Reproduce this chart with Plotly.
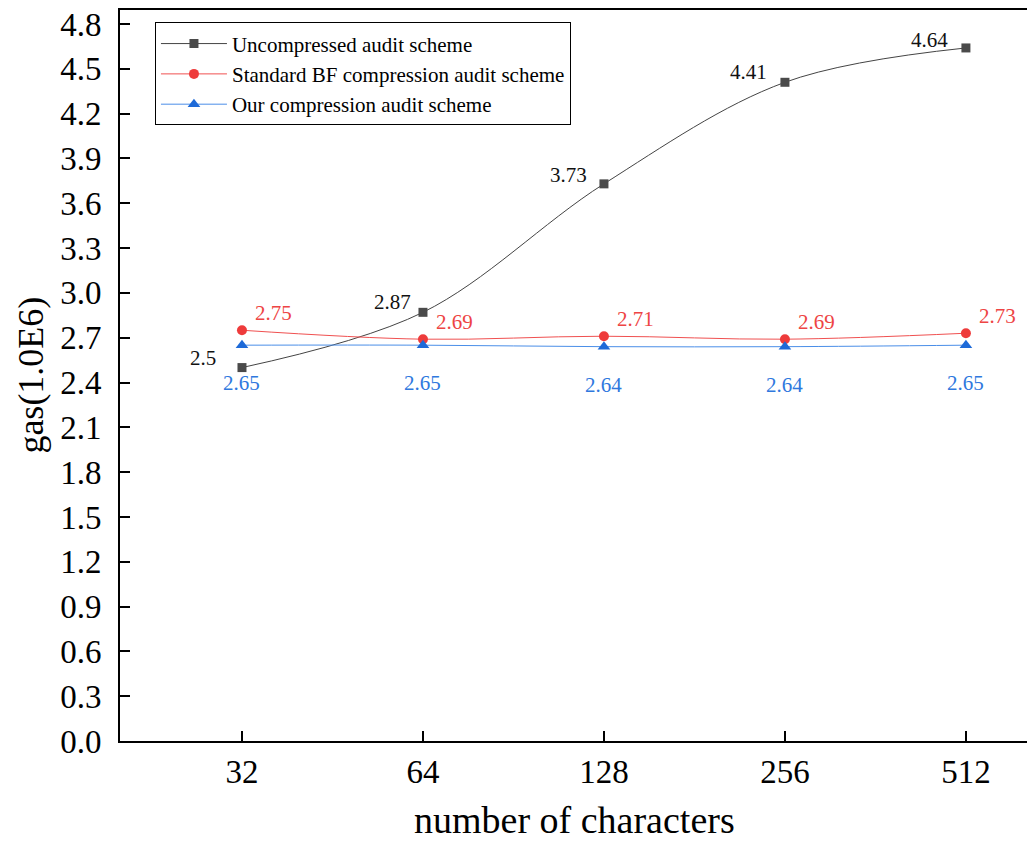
import plotly.graph_objects as go

categories = ["32", "64", "128", "256", "512"]
uncompressed = [2.5, 2.87, 3.73, 4.41, 4.64]
standard_bf = [2.75, 2.69, 2.71, 2.69, 2.73]
ours = [2.65, 2.65, 2.64, 2.64, 2.65]
y_ticks = [0.0, 0.3, 0.6, 0.9, 1.2, 1.5, 1.8, 2.1, 2.4, 2.7, 3.0, 3.3, 3.6, 3.9, 4.2, 4.5, 4.8]

FONT = "Liberation Serif"
idx = list(range(len(categories)))

fig = go.Figure()
fig.add_trace(go.Scatter(
    x=idx, y=uncompressed, name="Uncompressed audit scheme",
    mode="lines+markers", line=dict(color="#444444", width=1, shape="spline", smoothing=1.0),
    marker=dict(symbol="square", size=9, color="#4a4a4a")))
fig.add_trace(go.Scatter(
    x=idx, y=standard_bf, name="Standard BF compression audit scheme",
    mode="lines+markers", line=dict(color="#f05050", width=1, shape="spline"),
    marker=dict(symbol="circle", size=10, color="#ee3b3b")))
fig.add_trace(go.Scatter(
    x=idx, y=ours, name="Our compression audit scheme",
    mode="lines+markers", line=dict(color="#4a8ee8", width=1, shape="spline"),
    marker=dict(symbol="triangle-up", size=11, color="#1e6ad8")))

annotations = []
black_shift = [(-39, 10), (-30, 10), (-35, 9), (-36, 10), (-36, 8)]
for i, v in enumerate(uncompressed):
    dx, dy = black_shift[i]
    annotations.append(dict(x=i, y=v, text=f"{v:g}", showarrow=False, xshift=dx, yshift=dy,
                            font=dict(family=FONT, size=21, color="#111111")))
for i, v in enumerate(standard_bf):
    annotations.append(dict(x=i, y=v, text=f"{v:g}", showarrow=False, xshift=32, yshift=17,
                            font=dict(family=FONT, size=21, color="#ee4444")))
for i, v in enumerate(ours):
    annotations.append(dict(x=i, y=v, text=f"{v:g}", showarrow=False, xshift=0, yshift=-38,
                            font=dict(family=FONT, size=21, color="#2f78de")))

# axis titles
annotations.append(dict(xref="paper", yref="paper", x=0.5, y=-0.108, yanchor="middle",
                        text="number of characters", showarrow=False,
                        font=dict(family=FONT, size=38, color="black")))
annotations.append(dict(xref="paper", yref="paper", x=-0.099, y=0.5, xanchor="center",
                        text="gas(1.0E6)", showarrow=False, textangle=-90,
                        font=dict(family=FONT, size=36, color="black")))

fig.update_layout(
    width=1027, height=833,
    margin=dict(l=112, r=7, t=2, b=100, autoexpand=False),
    plot_bgcolor="white", paper_bgcolor="white",
    font=dict(family=FONT, color="black"),
    annotations=annotations,
    legend=dict(x=0.0385, y=0.983, xanchor="left", yanchor="top",
                bordercolor="black", borderwidth=1, bgcolor="white",
                font=dict(family=FONT, size=21), tracegroupgap=0, itemwidth=66),
    xaxis=dict(
        range=[-0.674, 4.343], tickmode="array", tickvals=idx, ticktext=categories,
        ticks="inside", ticklen=10, tickwidth=2, tickcolor="black",
        showline=True, linewidth=2, linecolor="black", mirror=True,
        showgrid=False, zeroline=False, automargin=False,
        tickfont=dict(family=FONT, size=33),
    ),
    yaxis=dict(
        range=[0, 4.894], tickmode="array", tickvals=y_ticks,
        ticktext=[f"{t:.1f}" for t in y_ticks],
        ticks="inside", ticklen=10, tickwidth=2, tickcolor="black",
        showline=True, linewidth=2, linecolor="black", mirror=True,
        showgrid=False, zeroline=False, automargin=False,
        tickfont=dict(family=FONT, size=33), ticklabelstandoff=10,
        ticklabeloverflow="allow",
    ),
)

fig.write_html("out.html")
